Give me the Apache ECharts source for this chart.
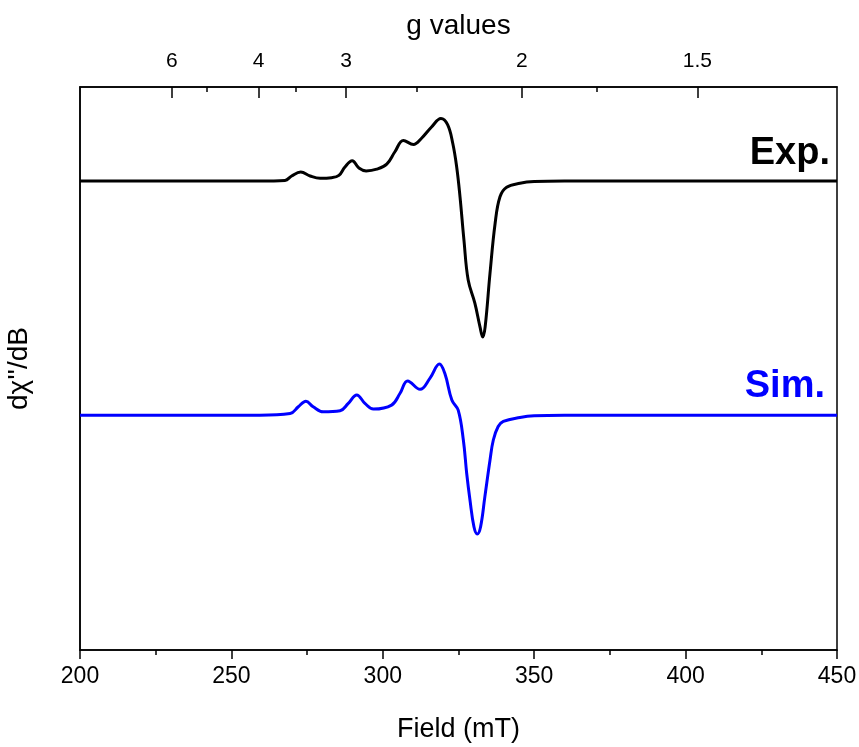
<!DOCTYPE html>
<html>
<head>
<meta charset="utf-8">
<script src="https://cdn.jsdelivr.net/npm/echarts@6/dist/echarts.min.js"></script>
<style>html,body{margin:0;padding:0;background:#fff;}#c{width:859px;height:747px;}</style>
</head>
<body>
<div id="c"></div>
<script>
// Experimental spectrum (field in mT, signal in arbitrary units)
var expField = [200, 259.4, 267.7, 269.9, 272.9, 276.0, 279.3, 283.1, 285.5, 287.5, 289.9, 292.1, 294.5, 298.0, 301.3, 304.0, 306.8, 310.1, 312.8, 316.1, 319.2, 321.4, 323.1, 324.4, 325.5, 326.8, 328.2, 330.4, 332.1, 333.0, 333.8, 335.4, 337.1, 338.7, 340.9, 345.3, 350, 360, 450];
var expSignal = [83.3, 83.3, 83.4, 84.2, 84.9, 84.2, 83.8, 83.9, 84.3, 85.8, 86.9, 85.6, 85.1, 85.4, 86.3, 88.5, 90.5, 89.8, 90.9, 92.9, 94.4, 93.3, 90.0, 85.8, 80.5, 72.8, 65.7, 61.6, 57.4, 55.6, 57.4, 66.9, 75.8, 80.5, 82.2, 82.9, 83.2, 83.3, 83.3];
// Simulated spectrum
var simField = [200, 259.4, 269.4, 272.1, 274.6, 277.0, 280.3, 285.9, 288.6, 291.4, 294.1, 296.9, 302.9, 305.7, 308.2, 312.3, 315.6, 318.7, 320.5, 322.8, 324.9, 326.6, 327.7, 328.8, 330.1, 331.2, 332.3, 333.7, 335.4, 336.5, 338.1, 339.8, 345.3, 350, 360, 450];
var simSignal = [41.7, 41.7, 42.0, 43.2, 44.2, 43.2, 42.3, 42.5, 43.8, 45.3, 43.8, 42.8, 43.5, 45.6, 47.8, 46.3, 48.3, 50.8, 49.1, 44.4, 42.6, 37.3, 31.4, 26.6, 21.9, 20.6, 21.9, 27.2, 33.7, 37.3, 39.7, 40.6, 41.3, 41.6, 41.7, 41.7];
// Top axis (g values) tick positions in field units
var gTickFields = [230.3, 259.0, 287.9, 345.9, 403.9];
var gTickLabels = ['6', '4', '3', '2', '1.5'];
var gMinorFields = [241.8, 271.4, 311.2, 370.8];

function pairs(xs, ys) { return xs.map(function (x, i) { return [x, ys[i]]; }); }

var FONT = '"Liberation Sans", Arial, sans-serif';
var chart = echarts.init(document.getElementById('c'), null, { renderer: 'canvas' });
chart.setOption({
  animation: false,
  backgroundColor: '#fff',
  grid: { left: 80, right: 22, top: 87, bottom: 97, outerBoundsMode: 'none', containLabel: false, show: true, borderColor: '#000', borderWidth: 1.5, backgroundColor: 'transparent' },
  xAxis: [
    {
      type: 'value', position: 'bottom', min: 200, max: 450, interval: 50,
      name: 'Field (mT)', nameLocation: 'middle', nameGap: 66,
      nameTextStyle: { fontFamily: FONT, fontSize: 27, color: '#000' },
      axisLine: { show: true, lineStyle: { color: '#000', width: 1.5 } },
      axisTick: { show: true, inside: false, length: 9, lineStyle: { color: '#000', width: 1.5 } },
      minorTick: { show: true, splitNumber: 2, length: 5, lineStyle: { color: '#000', width: 1.5 } },
      axisLabel: { fontFamily: FONT, fontSize: 23, color: '#000', margin: 15, showMinLabel: true, showMaxLabel: true },
      splitLine: { show: false }
    },
    {
      type: 'value', position: 'top', min: 200, max: 450,
      name: 'g values', nameLocation: 'middle', nameGap: 47,
      nameTextStyle: { fontFamily: FONT, fontSize: 28, color: '#000' },
      axisLine: { show: true, lineStyle: { color: '#000', width: 1.5 } },
      axisTick: { show: true, inside: true, length: 11, customValues: gTickFields, lineStyle: { color: '#000', width: 1.5 } },
      axisLabel: {
        fontFamily: FONT, fontSize: 21, color: '#000', margin: 15, customValues: gTickFields,
        formatter: function (v) {
          for (var i = 0; i < gTickFields.length; i++) { if (Math.abs(gTickFields[i] - v) < 0.01) return gTickLabels[i]; }
          return '';
        }
      },
      splitLine: { show: false }
    },
    {
      type: 'value', position: 'top', min: 200, max: 450,
      axisLine: { show: false },
      axisTick: { show: true, inside: true, length: 5, customValues: gMinorFields, lineStyle: { color: '#000', width: 1.5 } },
      axisLabel: { show: false },
      splitLine: { show: false }
    }
  ],
  yAxis: {
    type: 'value', min: 0, max: 100,
    name: "dχ''/dB", nameLocation: 'middle', nameGap: 47, nameRotate: 90,
    nameTextStyle: { fontFamily: FONT, fontSize: 28, color: '#000' },
    axisLine: { show: true, lineStyle: { color: '#000', width: 1.5 } },
    axisTick: { show: false }, axisLabel: { show: false }, splitLine: { show: false }
  },
  series: [
    { type: 'line', name: 'Exp.', xAxisIndex: 0, data: pairs(expField, expSignal), showSymbol: false, smooth: 0.4,
      lineStyle: { color: '#000', width: 3 } },
    { type: 'line', name: 'Sim.', xAxisIndex: 0, data: pairs(simField, simSignal), showSymbol: false, smooth: 0.4,
      lineStyle: { color: '#0000ff', width: 3 } }
  ],
  graphic: [
    { type: 'text', right: 29, top: 135, style: { text: 'Exp.', fill: '#000', font: 'bold 38px ' + FONT } },
    { type: 'text', right: 34, top: 368, style: { text: 'Sim.', fill: '#0000ff', font: 'bold 38px ' + FONT } }
  ]
});
</script>
</body>
</html>
